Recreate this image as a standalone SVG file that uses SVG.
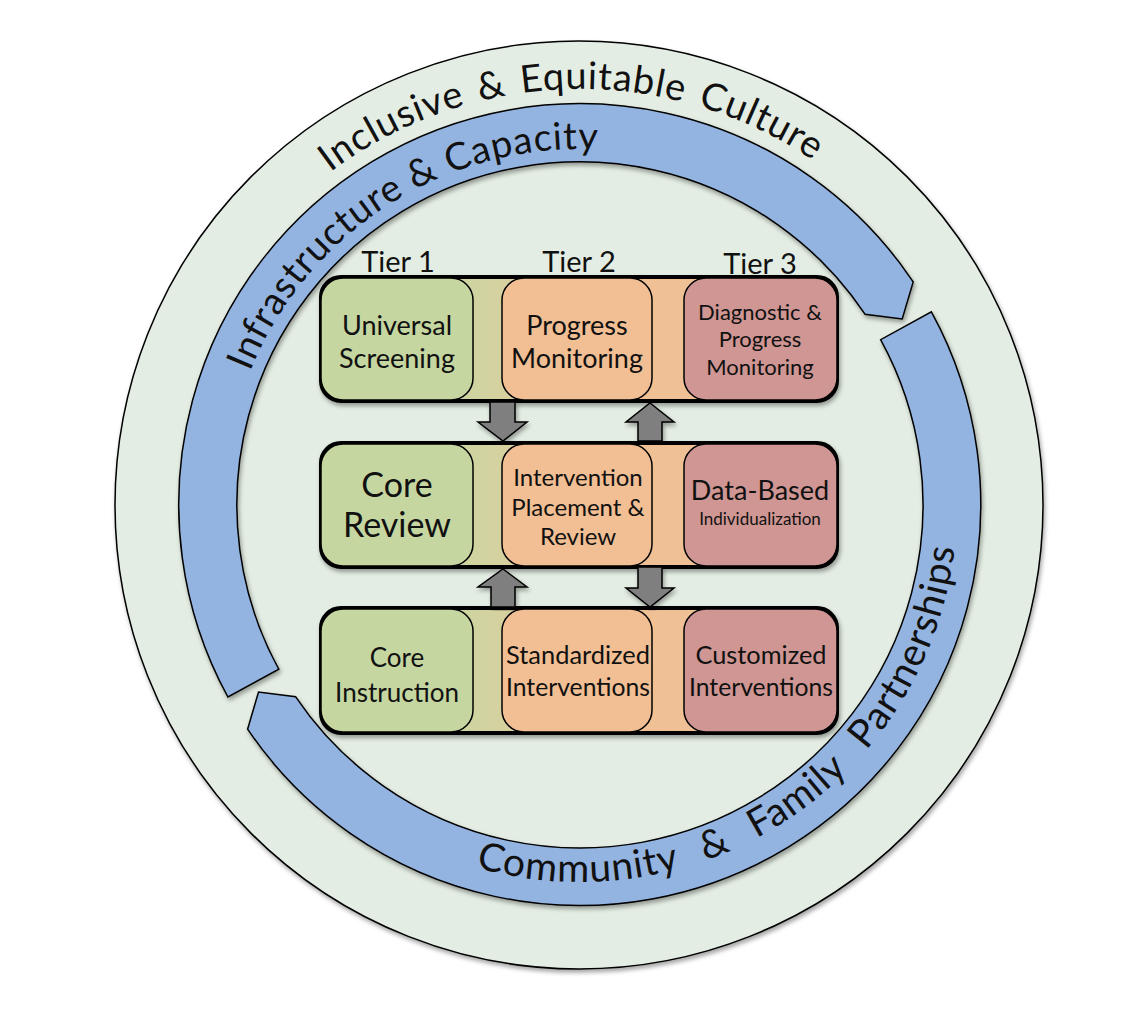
<svg xmlns="http://www.w3.org/2000/svg" width="1132" height="1012" viewBox="0 0 1132 1012">
<defs>
<filter id="sh" x="-10%" y="-10%" width="120%" height="120%">
<feDropShadow dx="1.5" dy="3" stdDeviation="2" flood-color="#000" flood-opacity="0.35"/>
</filter>
<linearGradient id="barg" x1="321" y1="0" x2="837" y2="0" gradientUnits="userSpaceOnUse">
<stop offset="0" stop-color="#C5D6A0"/>
<stop offset="0.26" stop-color="#CCD4A0"/>
<stop offset="0.34" stop-color="#D4D2A0"/>
<stop offset="0.5" stop-color="#EFC094"/>
<stop offset="1" stop-color="#EEC196"/>
</linearGradient>
<path id="pOuter" d="M185.7,372.3 A416,416 0 0 1 967.3,353.2"/>
<path id="pInfra" d="M232.6,582.6 A356,356 0 0 1 796.2,222.2"/>
<path id="pComm" d="M356.8,808.8 A377,377 0 0 0 946.3,415.7"/>
</defs>
<style>
text{font-family:Lato,"Open Sans","Liberation Sans",sans-serif;fill:#111;}
.ring{fill:#E3EDE3;stroke:#000;stroke-width:1.5;}
.band{fill:#93B3E0;stroke:#000;stroke-width:1.5;stroke-linejoin:miter;}
.bar{fill:url(#barg);stroke:#000;stroke-width:4;}
.g{fill:#C5D6A0;stroke:#000;stroke-width:1.5;}
.o{fill:#F1BF93;stroke:#000;stroke-width:1.5;}
.r{fill:#CF9693;stroke:#000;stroke-width:1.5;}
.arr{fill:#7F7F7F;stroke:#000;stroke-width:1.5;stroke-linejoin:miter;}
.c{text-anchor:middle;}
.tier{font-size:29px;text-anchor:middle;}
</style>
<rect width="1132" height="1012" fill="#fff"/>
<g id="ring-culture">
<circle class="ring" cx="579" cy="505" r="464" filter="url(#sh)"/>
<text font-size="38"><textPath href="#pOuter" startOffset="50%" text-anchor="middle" textLength="515" word-spacing="4">Inclusive &amp; Equitable Culture</textPath></text>
</g>
<g id="arrow-infrastructure">
<path class="band" filter="url(#sh)" d="M227.9,697 A401,401 0 0 1 913.2,281.9 L902.2,319 L865,314.2 A343,343 0 0 0 278.8,669.2 Z"/>
<text font-size="38"><textPath href="#pInfra" startOffset="50%" text-anchor="middle" textLength="440">Infrastructure &amp; Capacity</textPath></text>
</g>
<g id="arrow-community">
<path class="band" filter="url(#sh)" d="M931.4,311.8 A401,401 0 0 1 247.6,729.2 L258.5,692.1 L295.7,696.8 A343,343 0 0 0 880.6,339.7 Z"/>
<text font-size="39"><textPath href="#pComm" startOffset="50%" text-anchor="middle" textLength="655" word-spacing="16">Community &amp; Family Partnerships</textPath></text>
</g>
<g id="tiers">
<text class="tier" x="398" y="272">Tier 1</text>
<text class="tier" x="579" y="272">Tier 2</text>
<text class="tier" x="760" y="274">Tier 3</text>
</g>
<g id="row1">
<rect class="bar" x="321" y="277" width="516" height="124" rx="20" filter="url(#sh)"/>
<g id="universal-screening">
<rect class="g" x="321" y="278" width="152" height="122" rx="22"/>
<text class="c" font-size="27" x="397" y="335">Universal</text>
<text class="c" font-size="27" x="397" y="368">Screening</text>
</g>
<g id="progress-monitoring">
<rect class="o" x="502" y="278" width="150" height="122" rx="22"/>
<text class="c" font-size="27" x="577" y="335">Progress</text>
<text class="c" font-size="27" x="577" y="368">Monitoring</text>
</g>
<g id="diagnostic-progress-monitoring">
<rect class="r" x="684" y="278" width="153" height="122" rx="22"/>
<text class="c" font-size="22" x="760" y="320">Diagnostic &amp;</text>
<text class="c" font-size="22" x="760" y="347">Progress</text>
<text class="c" font-size="22" x="760" y="375">Monitoring</text>
</g>
</g>
<g id="row2">
<rect class="bar" x="321" y="443" width="516" height="124" rx="20" filter="url(#sh)"/>
<g id="core-review">
<rect class="g" x="321" y="444" width="152" height="122" rx="22"/>
<text class="c" font-size="34" x="397" y="497">Core</text>
<text class="c" font-size="34" x="397" y="537">Review</text>
</g>
<g id="intervention-placement-review">
<rect class="o" x="502" y="444" width="150" height="122" rx="22"/>
<text class="c" font-size="24" x="578" y="486">Intervention</text>
<text class="c" font-size="24" x="578" y="516">Placement &amp;</text>
<text class="c" font-size="24" x="578" y="545">Review</text>
</g>
<g id="data-based-individualization">
<rect class="r" x="684" y="444" width="153" height="122" rx="22"/>
<text class="c" font-size="27" x="760" y="500">Data-Based</text>
<text class="c" font-size="17" x="760" y="525">Individualization</text>
</g>
</g>
<g id="row3">
<rect class="bar" x="321" y="608" width="516" height="125" rx="20" filter="url(#sh)"/>
<g id="core-instruction">
<rect class="g" x="321" y="609" width="152" height="123" rx="22"/>
<text class="c" font-size="26" x="397" y="667">Core</text>
<text class="c" font-size="26" x="397" y="702">Instruction</text>
</g>
<g id="standardized-interventions">
<rect class="o" x="502" y="609" width="150" height="123" rx="22"/>
<text class="c" font-size="25" x="578" y="664" textLength="144" lengthAdjust="spacingAndGlyphs">Standardized</text>
<text class="c" font-size="25" x="578" y="696" textLength="144" lengthAdjust="spacingAndGlyphs">Interventions</text>
</g>
<g id="customized-interventions">
<rect class="r" x="684" y="609" width="153" height="123" rx="22"/>
<text class="c" font-size="25" x="761" y="664" textLength="131" lengthAdjust="spacingAndGlyphs">Customized</text>
<text class="c" font-size="25" x="761" y="696" textLength="144" lengthAdjust="spacingAndGlyphs">Interventions</text>
</g>
</g>
<g id="connectors">
<path class="arr" filter="url(#sh)" d="M490,402 L515,402 L515,422 L527,422 L503,441 L478,422 L490,422 Z"/>
<path class="arr" filter="url(#sh)" d="M650,403 L674,422 L662,422 L662,441 L638,441 L638,422 L626,422 Z"/>
<path class="arr" filter="url(#sh)" d="M503,569 L527,587 L515,587 L515,607 L491,607 L491,587 L478,587 Z"/>
<path class="arr" filter="url(#sh)" d="M638,567 L662,567 L662,588 L674,588 L650,607 L626,588 L638,588 Z"/>
</g>
</svg>
